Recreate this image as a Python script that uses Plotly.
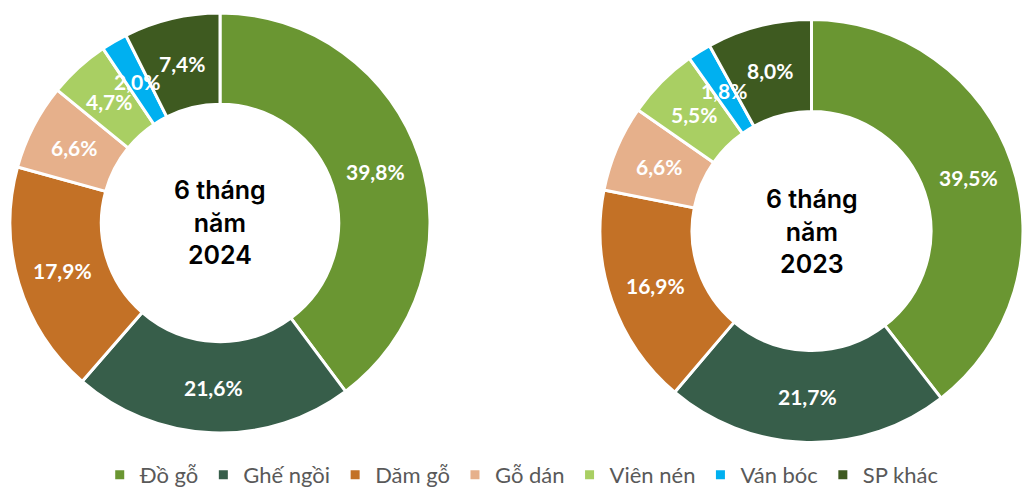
import math
import plotly.graph_objects as go

categories = ["Đồ gỗ", "Ghế ngồi", "Dăm gỗ", "Gỗ dán", "Viên nén", "Ván bóc", "SP khác"]
share_2024 = [39.8, 21.6, 17.9, 6.6, 4.7, 2.0, 7.4]
share_2023 = [39.5, 21.7, 16.9, 6.6, 5.5, 1.8, 8.0]
center_titles = ["6 tháng<br>năm<br>2024", "6 tháng<br>năm<br>2023"]
colors = ["#6A9632", "#375E4A", "#C37126", "#E6B08B", "#A9CF63", "#00B0F0", "#3E5A20"]

W, H = 1023, 487
HOLE = 0.565

# pixel geometry of each donut: (center x, center y, outer radius)
geoms = [(220.0, 223.0, 210.0), (811.5, 231.0, 211.5)]
series = [share_2024, share_2023]

fig = go.Figure()
annotations = []
for i, (vals, (cx, cy, r)) in enumerate(zip(series, geoms)):
    fig.add_trace(go.Pie(
        labels=categories,
        values=vals,
        hole=HOLE,
        sort=False,
        direction="clockwise",
        rotation=0,
        marker=dict(colors=colors, line=dict(color="white", width=3)),
        textinfo="none",
        hoverinfo="label+percent",
        domain=dict(x=[max(0, (cx - r) / W), min(1, (cx + r) / W)],
                    y=[1 - (cy + r) / H, 1 - (cy - r) / H]),
        showlegend=True,
    ))
    total = sum(vals)
    rl = r * (1 + HOLE) / 2
    cum = 0.0
    for v in vals:
        th = 2 * math.pi * (cum + v / 2) / total
        px = cx + rl * math.sin(th)
        py = cy - rl * math.cos(th)
        annotations.append(dict(
            x=px / W, y=1 - py / H, xref="paper", yref="paper",
            text=f"{v:.1f}".replace(".", ",") + "%", showarrow=False,
            font=dict(family="Lato", size=21, color="white", weight=700),
            xanchor="center", yanchor="middle"))
        cum += v
    annotations.append(dict(
        x=cx / W, y=1 - cy / H, xref="paper", yref="paper",
        text=center_titles[i], showarrow=False,
        font=dict(family="Inter", size=25, color="black", weight=600),
        xanchor="center", yanchor="middle", align="center"))

fig.update_layout(
    width=W, height=H, autosize=False,
    margin=dict(l=0, r=0, t=0, b=0, autoexpand=False),
    paper_bgcolor="white", plot_bgcolor="white",
    annotations=annotations,
    legend=dict(orientation="h", x=0.51, xanchor="center", y=1 - 475 / H, yanchor="middle",
                font=dict(family="Lato", size=22, color="#595959"),
                itemwidth=30, traceorder="normal"),
)

fig.write_html("out.html", config={"displayModeBar": False},
               post_script="document.body.style.margin='0';document.body.style.overflow='hidden';")
